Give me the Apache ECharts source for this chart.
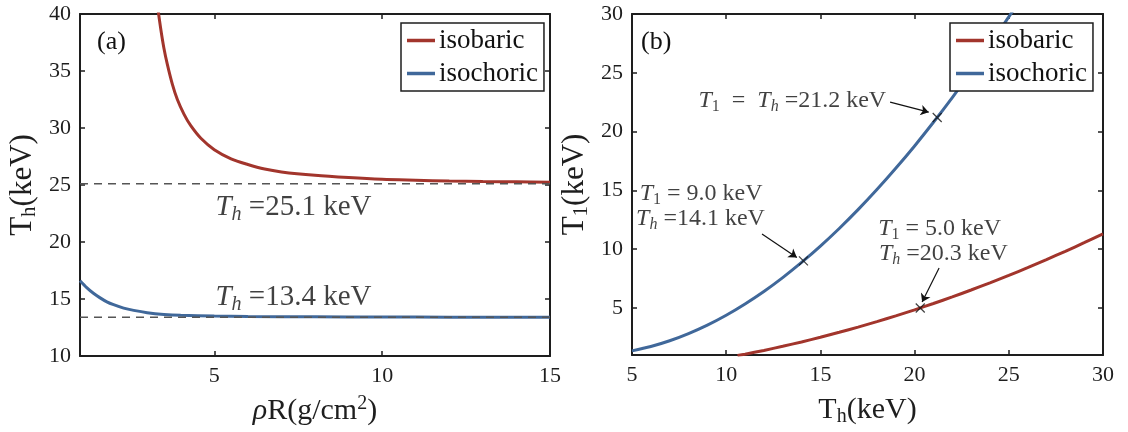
<!DOCTYPE html>
<html>
<head>
<meta charset="utf-8">
<script src="https://cdn.jsdelivr.net/npm/echarts@6/dist/echarts.min.js"></script>
<style>html,body{margin:0;padding:0;background:#fff;}#c{width:1128px;height:432px;}</style>
</head>
<body>
<div id="c"></div>
<script>
// ---------- Panel (a): Th vs rhoR ----------
const aXRange = [1, 15];
const aYRange = [10, 40];
const aXTicks = [5, 10, 15];
const aIsobaricX = [3.3, 3.4, 3.5, 3.6, 3.75, 3.9, 4.1, 4.3, 4.6, 5, 5.5, 6, 6.5, 7, 8, 9, 10, 11, 12, 13, 14, 15];
const aIsobaricY = [40.9, 38.8, 37.0, 35.6, 33.85, 32.5, 31.2, 30.2, 29.1, 28.1, 27.3, 26.8, 26.4, 26.15, 25.85, 25.65, 25.5, 25.42, 25.35, 25.31, 25.28, 25.25];
const aIsochoricX = [1, 1.2, 1.4, 1.6, 1.8, 2.0, 2.3, 2.6, 3.0, 3.5, 4, 5, 6, 8, 10, 12, 15];
const aIsochoricY = [16.6, 16.0, 15.5, 15.1, 14.75, 14.5, 14.2, 14.0, 13.8, 13.65, 13.57, 13.5, 13.47, 13.44, 13.42, 13.41, 13.4];
const aAsymptotes = [25.1, 13.4];
const aNoteX = [5.02, 5.02];
const aNoteY = [23.0, 15.1];
const aNoteVal = ['25.1', '13.4'];

// ---------- Panel (b): T1 vs Th ----------
const bXRange = [5, 30];
const bYRange = [1, 30];
const bYTicks = [5, 10, 15, 20, 25, 30];
const bIsobaricX = [10.6, 11, 12, 13, 14, 15, 16, 17, 18, 19, 20, 21, 22, 23, 24, 25, 26, 27, 28, 29, 30];
const bIsobaricY = [0.95, 1.07, 1.39, 1.74, 2.11, 2.51, 2.93, 3.37, 3.84, 4.33, 4.84, 5.38, 5.94, 6.53, 7.14, 7.77, 8.43, 9.11, 9.82, 10.55, 11.3];
const bIsochoricX = [5, 6, 7, 8, 9, 10, 11, 12, 13, 14, 15, 16, 17, 18, 19, 20, 21, 22, 23, 24, 25, 25.5];
const bIsochoricY = [1.35, 1.72, 2.21, 2.82, 3.54, 4.38, 5.34, 6.40, 7.58, 8.87, 10.26, 11.76, 13.36, 15.07, 16.88, 18.78, 20.79, 22.89, 25.09, 27.38, 29.76, 30.95];
const bMarkX = [14.1, 21.2, 20.3];
const bMarkY = [9.0, 21.2, 5.0];
const bArrowFrom = [[18.7, 22.5], [11.9, 11.3], [21.3, 8.4]];
const bArrowTo = [[20.75, 21.65], [13.75, 9.3], [20.4, 5.5]];
const bNoteX = [8.5, 5.38, 5.19, 18.04, 18.08];
const bNoteY = [22.6, 14.68, 12.56, 11.7, 9.6];
const bNoteText = [
  '{i|T}{s|1}{n|  =  }{i|T}{si|h}{n| =21.2 keV}',
  '{i|T}{s|1}{n| = 9.0 keV}',
  '{i|T}{si|h}{n| =14.1 keV}',
  '{i|T}{s|1}{n| = 5.0 keV}',
  '{i|T}{si|h}{n| =20.3 keV}'
];

const RED = '#a2352c';
const BLUE = '#40689a';
const AX = '#1e1e1e';
const FF = 'Liberation Serif';

const zip = (xs, ys) => xs.map((x, i) => [x, ys[i]]);

function mathRich(sz) {
  const sub = Math.round(sz * 0.68);
  return {
    i: {fontFamily: FF, fontStyle: 'italic', fontSize: sz, color: '#111', lineHeight: sz + 4, verticalAlign: 'middle'},
    n: {fontFamily: FF, fontSize: sz, color: '#111', lineHeight: sz + 4, verticalAlign: 'middle'},
    si: {fontFamily: FF, fontStyle: 'italic', fontSize: sub, color: '#111', lineHeight: sub - 2, verticalAlign: 'bottom'},
    s: {fontFamily: FF, fontSize: sub, color: '#111', lineHeight: sub - 2, verticalAlign: 'bottom'}
  };
}
function nameRich(sz) {
  const sub = Math.round(sz * 0.68);
  return {
    t: {fontFamily: FF, fontSize: sz, color: AX, lineHeight: sz + 4, verticalAlign: 'middle'},
    i: {fontFamily: FF, fontStyle: 'italic', fontSize: sz, color: AX, lineHeight: sz + 4, verticalAlign: 'middle'},
    s: {fontFamily: FF, fontSize: sub, color: AX, lineHeight: sub - 2, verticalAlign: 'bottom'},
    sup: {fontFamily: FF, fontSize: sub, color: AX, lineHeight: sub - 2, verticalAlign: 'top'}
  };
}

function axisBase(gridIndex, range, position, showLabel, custom, interval) {
  const a = {
    gridIndex, type: 'value', min: range[0], max: range[1], position,
    axisLine: {show: true, onZero: false, lineStyle: {color: AX, width: 2}},
    axisTick: {show: true, inside: true, length: 5, lineStyle: {color: AX, width: 1.5}},
    axisLabel: {show: showLabel, fontFamily: FF, fontSize: 22, color: AX, margin: 9},
    splitLine: {show: false}
  };
  if (custom) { a.axisTick.customValues = custom; a.axisLabel.customValues = custom; }
  if (interval) a.interval = interval;
  return a;
}

const xAxes = [
  Object.assign(axisBase(0, aXRange, 'bottom', true, aXTicks), {
    name: '{i|ρ}{t|R(g/cm}{sup|2}{t|)}', nameLocation: 'middle', nameGap: 38,
    nameTextStyle: {rich: nameRich(30)}
  }),
  axisBase(0, aXRange, 'top', false, aXTicks),
  Object.assign(axisBase(1, bXRange, 'bottom', true, null, 5), {
    name: '{t|T}{s|h}{t|(keV)}', nameLocation: 'middle', nameGap: 38,
    nameTextStyle: {rich: nameRich(30)}
  }),
  axisBase(1, bXRange, 'top', false, null, 5)
];
const yAxes = [
  Object.assign(axisBase(0, aYRange, 'left', true, null, 5), {
    name: '{t|T}{s|h}{t|(keV)}', nameLocation: 'middle', nameGap: 40,
    nameTextStyle: {rich: nameRich(31)}
  }),
  axisBase(0, aYRange, 'right', false, null, 5),
  Object.assign(axisBase(1, bYRange, 'left', true, bYTicks), {
    name: '{t|T}{s|1}{t|(keV)}', nameLocation: 'middle', nameGap: 40,
    nameTextStyle: {rich: nameRich(31)}
  }),
  axisBase(1, bYRange, 'right', false, bYTicks)
];

function curve(name, xs, ys, color, xi, yi) {
  return {
    name, type: 'line', xAxisIndex: xi, yAxisIndex: yi, data: zip(xs, ys),
    smooth: 0.3, symbol: 'none', showSymbol: false,
    lineStyle: {color, width: 3}, itemStyle: {color}, z: 2, clip: true
  };
}

const series = [
  curve('isobaric', aIsobaricX, aIsobaricY, RED, 0, 0),
  curve('isochoric', aIsochoricX, aIsochoricY, BLUE, 0, 0),
  curve('isobaric', bIsobaricX, bIsobaricY, RED, 2, 2),
  curve('isochoric', bIsochoricX, bIsochoricY, BLUE, 2, 2)
];
aAsymptotes.forEach((v, k) => {
  series.push({
    name: 'asym' + k, type: 'line', xAxisIndex: 0, yAxisIndex: 0,
    data: [[aXRange[0], v], [aXRange[1], v]], symbol: 'none', silent: true, z: 3,
    lineStyle: {color: '#555', width: 1.5, type: [8, 6]}
  });
});
series.push({
  name: 'notesA', type: 'scatter', xAxisIndex: 0, yAxisIndex: 0, symbolSize: 1,
  itemStyle: {color: 'transparent'}, silent: true, z: 6,
  data: aNoteX.map((x, k) => ({value: [x, aNoteY[k]], txt: '{i|T}{si|h}{n| =' + aNoteVal[k] + ' keV}'})),
  label: {show: true, position: 'right', distance: 0, formatter: p => p.data.txt, rich: mathRich(29)}
});
series.push({
  name: 'notesB', type: 'scatter', xAxisIndex: 2, yAxisIndex: 2, symbolSize: 1,
  itemStyle: {color: 'transparent'}, silent: true, z: 6,
  data: bNoteX.map((x, k) => ({value: [x, bNoteY[k]], txt: bNoteText[k]})),
  label: {show: true, position: 'right', distance: 0, formatter: p => p.data.txt, rich: mathRich(24)}
});
series.push({
  name: 'marks', type: 'scatter', xAxisIndex: 2, yAxisIndex: 2,
  data: zip(bMarkX, bMarkY), symbol: 'path://M0,0L10,10M10,0L0,10', symbolSize: 9,
  itemStyle: {color: 'none', borderColor: '#111', borderWidth: 1.2}, z: 5, silent: true
});
series.push({
  name: 'arrows', type: 'lines', coordinateSystem: 'cartesian2d', xAxisIndex: 2, yAxisIndex: 2,
  data: bArrowFrom.map((f, k) => ({coords: [f, bArrowTo[k]]})),
  symbol: ['none', 'arrow'], symbolSize: 8, silent: true, z: 5,
  lineStyle: {color: '#111', width: 1.2, opacity: 1}
});

function legendAt(left) {
  return {
    data: ['isobaric', 'isochoric'], orient: 'vertical', left, top: 23,
    icon: 'rect', itemWidth: 28, itemHeight: 3.5, itemGap: 2,
    padding: [2, 6, 2, 6], borderColor: AX, borderWidth: 1.5, backgroundColor: '#fff',
    textStyle: {fontFamily: FF, fontSize: 27, color: '#111', lineHeight: 31, padding: [0, 0, 0, -1]},
    selectedMode: false, z: 10
  };
}

const option = {
  animation: false,
  backgroundColor: '#fff',
  textStyle: {fontFamily: FF},
  title: [
    {text: '(a)', left: 97, top: 29, padding: 0, textStyle: {fontFamily: FF, fontSize: 26, fontWeight: 'normal', color: '#111'}},
    {text: '(b)', left: 641, top: 29, padding: 0, textStyle: {fontFamily: FF, fontSize: 26, fontWeight: 'normal', color: '#111'}}
  ],
  grid: [
    {left: 80, top: 14, width: 470, height: 342},
    {left: 632, top: 14, width: 471, height: 342}
  ],
  legend: [legendAt(401), legendAt(950)],
  xAxis: xAxes,
  yAxis: yAxes,
  series
};

const chart = echarts.init(document.getElementById('c'), null, {renderer: 'canvas'});
chart.setOption(option);
</script>
</body>
</html>
